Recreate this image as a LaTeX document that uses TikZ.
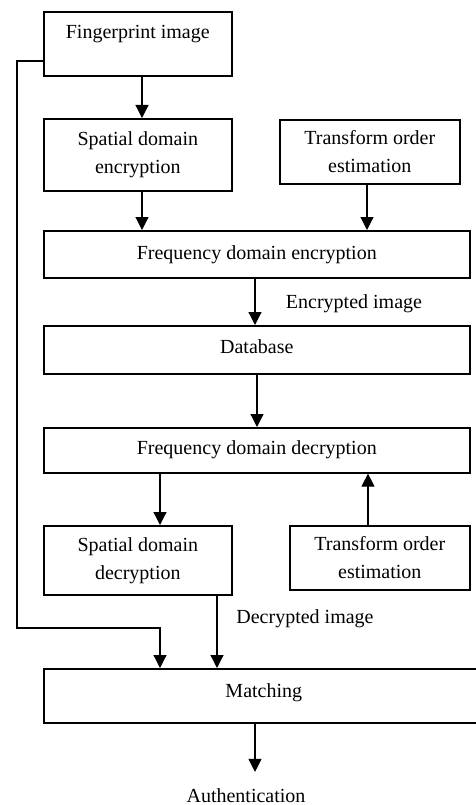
\documentclass[tikz,border=0pt]{standalone}
\usepackage{fontspec}
\setmainfont{Liberation Serif}
\usetikzlibrary{arrows.meta}
\begin{document}
\begin{tikzpicture}[x=1pt,y=-1pt]
\tikzset{
 box/.style={draw, line width=1.6pt, anchor=north west, inner sep=0pt, align=center, font=\fontsize{20}{28}\selectfont},
 conn/.style={line width=1.2pt, -{Triangle[width=13pt,length=13pt]}},
 lbl/.style={font=\fontsize{20}{28}\selectfont, inner sep=0pt, anchor=base}
}
\clip (0,0) rectangle (476,805);
% boxes
\node[box, minimum width=188pt, minimum height=64pt, text height=27pt, text depth=37pt] (fp) at (43,11) {Fingerprint image};
\node[box, minimum width=188pt, minimum height=72pt] (sde) at (43,118) {Spatial domain\\encryption};
\node[box, minimum width=180pt, minimum height=64pt] (toe) at (279,119) {Transform order\\estimation};
\node[box, minimum width=426pt, minimum height=47pt, text height=29pt, text depth=18pt] (fde) at (43,230) {Frequency domain encryption};
\node[box, minimum width=426pt, minimum height=48pt, text height=28pt, text depth=20pt] (db) at (43,325) {Database};
\node[box, minimum width=426pt, minimum height=45pt, text height=27pt, text depth=18pt] (fdd) at (43,427) {Frequency domain decryption};
\node[box, minimum width=188pt, minimum height=69pt] (sdd) at (43,525) {Spatial domain\\decryption};
\node[box, minimum width=180pt, minimum height=64pt] (tod) at (289,525) {Transform order\\estimation};
\node[box, minimum width=440pt, minimum height=54pt, text height=29pt, text depth=25pt] (match) at (43,668) {Matching};
% labels
\node[lbl] (enc) at (354,308) {Encrypted image};
\node[lbl] (dec) at (305,623) {Decrypted image};
\node[lbl, inner ysep=16pt] (auth) at (246,802) {Authentication};
% guides
\coordinate (xa) at (142,0);
\coordinate (xb) at (367,0);
\coordinate (xc) at (255,0);
\coordinate (xc2) at (257,0);
\coordinate (xd) at (160,0);
\coordinate (xe) at (368,0);
\coordinate (xf) at (217,0);
\coordinate (b1) at (17,61);
\coordinate (b2) at (17,628);
% connectors
\draw[conn] (fp.south -| xa) -- (sde.north -| xa);
\draw[conn] (sde.south -| xa) -- (fde.north -| xa);
\draw[conn] (toe.south -| xb) -- (fde.north -| xb);
\draw[conn] (fde.south -| xc) -- (db.north -| xc);
\draw[conn] (db.south -| xc2) -- (fdd.north -| xc2);
\draw[conn] (fdd.south -| xd) -- (sdd.north -| xd);
\draw[conn] (tod.north -| xe) -- (fdd.south -| xe);
\draw[conn] (sdd.south -| xf) -- (match.north -| xf);
\draw[conn] (fp.west |- b1) -- (b1) -- (b2) -- (b2 -| xd) -- (match.north -| xd);
\draw[conn] (match.south -| xc) -- (auth.north -| xc);
\end{tikzpicture}
\end{document}
